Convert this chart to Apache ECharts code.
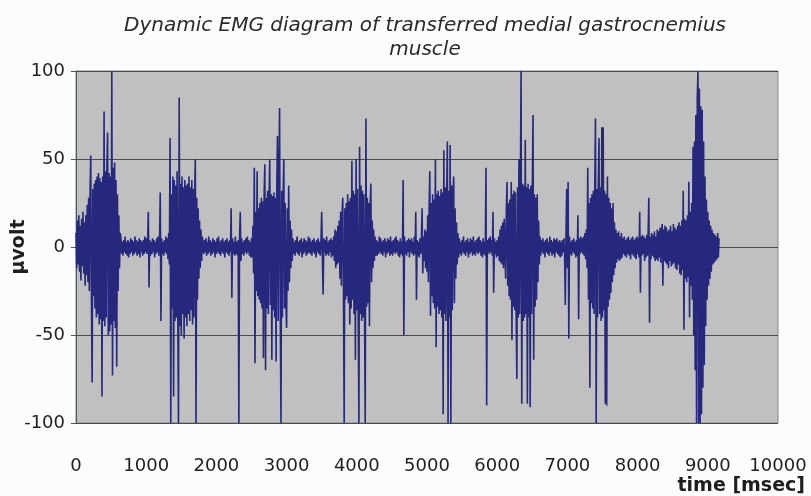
<!DOCTYPE html>
<html>
<head>
<meta charset="utf-8">
<script src="https://cdn.jsdelivr.net/npm/echarts@6/dist/echarts.min.js"></script>
<style>
body { margin: 0; background: #fcfcfe; }
#emgChart { width: 811px; height: 496px; }
</style>
</head>
<body>
<div id="emgChart"></div>
<script type="text/javascript">
'use strict';
// sampling step of the recording (msec between two points)
var sampleStep = 10;
var xTicks = [0, 10000, 1000];
var yTicks = [-100, 100, 50];

// signal, one block per burst / rest phase (µvolt)
var burst1 = [8,-12,15,-10,18,-14,12,-19,16,-11,
  20,-15,14,-22,18,-16,24,-20,28,-25,
  30,52,-30,-77,33,-28,36,-35,38,-40,
  40,-38,42,-44,39,-41,37,-85,40,-42,
  77,-45,43,-40,45,65,-50,42,-48,40,
  -44,100,-73,45,-42,48,-46,38,-68,30,
  -25,18,-12,8];
var rest1 = [5,-4,3,-5,4,-3,6,-4,3,-5,
  4,-6,3,-4,5,-3,4,-5,3,-4,
  6,-3,4,-5,3,-4,5,-6,4,-3,
  3,-5,4,-4,6,-3,5,-4,3,20,
  -23,4,-5,3,-4,5,-3,4,-6,3,
  -4,5,-3,6,-5,4,31,-42,5,-4,
  3,-5,4,-3,6,-4,5,-7,8,-10];
var burst2 = [62,-100,30,-35,40,-85,38,-42,35,-40,
  43,-38,-100,85,-45,36,-50,40,-38,34,
  -52,38,-40,35,-45,36,-38,40,-42,34,
  -36,38,-44,33,-40,30,50,-100,28,-30,
  22,-18,15,-12,10,-8,6];
var rest2 = [5,-4,4,-3,5,-5,3,-4,6,-3,
  4,-5,3,-4,5,-3,4,-6,3,-4,
  5,-3,6,-4,3,-5,4,-3,5,-4,
  3,-6,4,-3,5,-4,3,-5,4,-3,
  22,-29,5,-4,3,-5,6,-4,3,-5,
  4,-100,6,20,-8,5,-4,3,-5,4,
  -3,5,-4,6,-3,4,-5,3,-6,5,
  -6];
var burst3 = [12,-15,45,-66,20,-25,43,-28,22,-30,
  25,-32,28,-35,26,-63,30,47,-70,28,
  -35,32,-38,27,50,-33,30,-64,29,-36,
  31,-40,28,-65,33,63,-42,35,79,-38,
  -100,32,-40,28,50,-35,25,-30,-46,22,
  -25,35,-20,15,-12,10,-8];
var rest3 = [5,-4,3,-5,4,-3,6,-4,3,-5,
  4,-3,5,-6,3,-4,5,-3,4,-5,
  3,-4,6,-3,5,-4,3,-5,4,-3,
  5,-4,3,-6,4,-3,5,-4,3,-5,
  4,20,-5,-27,5,-3,4,-5,6,-4,
  3,-5,4,-3,5,-6,4,-5,6,-8,
  10,-12,9,-10,12,-9];
var burst4 = [15,-18,20,-22,18,28,-25,-100,22,-30,
  25,-28,30,-32,26,-44,28,-35,49,-30,
  32,-38,30,-64,50,-36,33,-40,-100,57,
  -38,35,-42,32,-40,30,-36,-100,73,-34,
  28,-32,25,-45,22,36,-20,15,-12,10,
  -8,6,-5];
var rest4 = [4,-5,3,-4,6,-3,5,-4,3,-5,
  4,-3,5,-6,3,-4,5,-3,4,-5,
  6,-4,3,-5,4,-3,5,-4,6,-3,
  4,-5,3,-6,5,-4,3,-5,38,-50,
  6,-4,3,-5,4,-3,5,-6,4,-3,
  5,-4,3,-5,6,-4,20,-30,4,-5,
  3,-6,5,-4,3,22,-15,6,-8,10,
  -12,9,-14];
var burst5 = [18,-20,22,43,-39,25,-28,30,-32,27,
  -35,50,-57,30,-34,32,-38,29,-36,33,
  -40,31,-95,55,-38,34,-42,30,60,-100,
  32,-40,58,-100,35,-36,30,40,-32,22,
  -18,14,-10,8];
var rest5 = [-6,5,-4,3,-5,4,-3,6,-4,3,
  -5,4,-3,5,-6,3,-4,5,-3,4,
  -5,6,-4,3,-5,4,-3,5,-4,6,
  -3,4,-5,3,-6,5,-4,3,-5,45,
  -90,4,-3,5,-4,6,-3,4,-5,20,
  -26,5,-4,3,-6,4,-5,6,-8,10,
  -9,12,-10,14,-12,16];
var burst6 = [15,-18,20,37,-22,25,-28,27,-30,37,
  -53,30,-34,32,-36,31,-38,-75,34,-40,
  50,-38,33,100,-89,36,-42,35,-40,61,
  -38,34,-89,36,-40,33,-91,35,-38,32,
  75,-64,30,-34,28,-30,30,-20,15,-10];
var rest6 = [6,-5,4,-3,5,-4,3,-6,4,-3,
  5,-4,3,-5,6,-3,4,-5,3,-4,
  5,-6,4,-3,5,-4,3,-5,4,-6,
  3,-5,4,-3,5,-4,-33,8,33,-12,
  37,-52,6,-4,3,-5,4,-3,5,-4,
  3,-6,4,-5,18,-41,5,-4,6,-3,
  5,-4,6,-5,8,-7,10,-12];
var burst7 = [45,-30,25,-80,28,-32,30,-35,32,-38,
  34,73,-100,33,-40,36,62,-38,34,-42,
  68,-40,68,-36,32,-89,30,-90,40,-34,
  28,-30,25,-26,22,-20,25,-16,14,-12,
  10,-9,8,-7,9,-8,6,-7];
var burst8 = [8,-6,5,-4,6,-5,4,-6,5,-4,
  6,-5,4,-7,5,-4,6,-5,4,-6,
  5,-7,6,-4,5,-6,20,-26,6,-5,
  7,-4,6,-8,5,-6,7,-5,8,28,
  -43,6,-7,8,-5,7,-6,9,-8,6,
  -7,10,-8,9,-6,11,-9,8,13,-22,
  10,-8,12,-9,11,-10,9,-12,10,-8,
  12,-11,9,-10,13,-9,11,-12,10,-13,
  12,-10,14,-15,12,-16,15,-13,32,-47,
  16,-18,15,-20,18,-17,37,-40,20,-22,
  25,-30,57,-50,60,-70,75,-100,85,100,
  -100,90,-100,80,-95,78,-80,60,-67,40,
  -45,27,-30,20,-22,15,-18,12,-14,10,
  -10,8,-9,7,-8,6,-7,8,-6,5];

var signal = [].concat(burst1, rest1, burst2, rest2, burst3, rest3, burst4,
  rest4, burst5, rest5, burst6, rest6, burst7, burst8);
var emgData = signal.map(function (v, i) { return [i * sampleStep, v]; });

var labelFont = 'DejaVu Sans';
var emgOption = {
  animation: false,
  backgroundColor: '#fcfcfe',
  title: {
    text: 'Dynamic EMG diagram of transferred medial gastrocnemius\nmuscle',
    left: 420,
    top: 9,
    textAlign: 'center',
    textStyle: {
      fontFamily: labelFont,
      fontStyle: 'italic',
      fontWeight: 'normal',
      fontSize: 20,
      lineHeight: 24,
      color: '#2a2a2a'
    }
  },
  grid: {
    left: 76,
    right: 33,
    top: 71,
    bottom: 73,
    containLabel: false,
    outerBoundsMode: 'none',
    show: true,
    backgroundColor: '#c0c0c0',
    borderColor: '#7d8a8a',
    borderWidth: 1
  },
  xAxis: {
    type: 'value',
    min: xTicks[0],
    max: xTicks[1],
    interval: xTicks[2],
    axisLine: { show: false },
    axisTick: { show: false },
    splitLine: { show: false },
    axisLabel: {
      margin: 34,
      fontFamily: labelFont,
      fontSize: 18,
      color: '#1e1e1e',
      formatter: function (v) { return String(v); }
    }
  },
  yAxis: {
    type: 'value',
    min: yTicks[0],
    max: yTicks[1],
    interval: yTicks[2],
    name: 'µvolt',
    nameLocation: 'middle',
    nameRotate: 90,
    nameGap: 47,
    nameMoveOverlap: false,
    nameTextStyle: {
      fontFamily: labelFont,
      fontWeight: 'bold',
      fontSize: 19,
      color: '#1e1e1e'
    },
    axisLine: { show: true, lineStyle: { color: '#4a5656', width: 1 } },
    axisTick: { show: true, inside: false, length: 5, lineStyle: { color: '#4a5656' } },
    splitLine: { show: true, lineStyle: { color: '#3e5050', width: 1 } },
    axisLabel: {
      margin: 11,
      fontFamily: labelFont,
      fontSize: 18,
      color: '#1e1e1e'
    }
  },
  graphic: [{
    type: 'text',
    right: 6,
    top: 477,
    style: {
      text: 'time [msec]',
      font: 'bold 19px "DejaVu Sans"',
      fill: '#1e1e1e'
    }
  }],
  series: [{
    name: 'EMG',
    type: 'line',
    data: emgData,
    showSymbol: false,
    sampling: null,
    lineStyle: { color: '#25287c', width: 1.6 },
    itemStyle: { color: '#25287c' }
  }]
};

var emgChart = echarts.init(document.getElementById('emgChart'));
emgChart.setOption(emgOption);
window.onresize = emgChart.resize;
</script>
</body>
</html>
